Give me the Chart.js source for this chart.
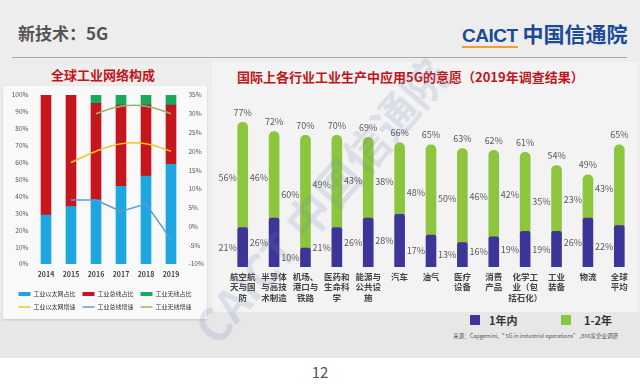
<!DOCTYPE html>
<html><head><meta charset="utf-8">
<script src="https://cdn.jsdelivr.net/npm/chart.js@4"></script>
<style>
body{margin:0;width:640px;height:386px;overflow:hidden;background:#fff;font-family:"Noto Sans CJK SC",sans-serif;position:relative}
.abs{position:absolute}
</style></head><body>
<div class="abs" style="left:0;top:0;width:640px;height:358px;background:#ededed"></div>
<div class="abs" style="left:212px;top:62px;width:426px;height:250px;background:#f3f3f3"></div>
<div class="abs" style="left:0;top:312px;width:640px;height:46px;background:#e7e7e7"></div>
<div class="abs" style="left:18px;top:21px;font-size:17px;font-weight:bold;color:#555;line-height:24px">新技术：5G</div>
<div class="abs" style="left:462px;top:20px;font-size:19px;font-weight:bold;color:#1c4b96;line-height:26px;font-family:'Liberation Sans','Noto Sans CJK SC',sans-serif"><span style="border-bottom:2px solid #f0a030;letter-spacing:-0.5px">CAICT</span><span style="font-family:'Noto Sans CJK SC';margin-left:5px;font-size:21px">中国信通院</span></div>
<div class="abs" style="left:12px;top:57px;width:615px;height:1px;background:#aaa"></div>
<div class="abs" style="left:3px;top:86px;width:204px;height:233px;background:#f9f9f9;box-shadow:0 1px 2px rgba(0,0,0,0.15)"></div>
<div class="abs" style="left:0;top:66px;width:206px;text-align:center;font-size:13px;font-weight:bold;color:#c0161b;line-height:18px">全球工业网络构成</div>
<div class="abs" style="left:237px;top:68px;font-size:13px;font-weight:bold;color:#c0161b;line-height:18px;white-space:nowrap">国际上各行业工业生产中应用5G的意愿（2019年调查结果）</div>
<canvas id="cl" class="abs" width="204" height="234" style="left:3px;top:86px"></canvas>
<canvas id="cr" class="abs" width="425" height="250" style="left:215px;top:62px"></canvas>
<div class="abs" style="left:470px;top:315px;width:10px;height:10px;background:#3d3597"></div>
<div class="abs" style="left:489px;top:312px;font-size:11px;font-weight:bold;color:#333;line-height:16px">1年内</div>
<div class="abs" style="left:561px;top:315px;width:10px;height:10px;background:#8cc63f"></div>
<div class="abs" style="left:584px;top:312px;font-size:11px;font-weight:bold;color:#333;line-height:16px">1-2年</div>
<div class="abs" style="right:22px;top:332px;font-size:5.5px;color:#555;line-height:8px;white-space:nowrap">来源：Capgemini,“ 5G in industrial operations” ,806家企业调研</div>
<div class="abs" style="left:0;top:362px;width:640px;text-align:center;font-size:15px;color:#555;line-height:20px">12</div>
<div class="abs" style="left:140px;top:175px;width:360px;text-align:center;font-size:44px;font-weight:bold;color:rgba(110,130,175,0.18);transform:rotate(-49deg);white-space:nowrap;line-height:50px;pointer-events:none">CAICT 中国信通院</div>
<script>
// ---- left chart data ----
const years = ['2014','2015','2016','2017','2018','2019'];
const ethShare = [29, 34, 38, 46, 52, 59];
const busShare = [71, 66, 57, 48, 42, 35];
const wirelessShare = [0, 0, 5, 6, 6, 6];
const ethGrowth = [null, 17, 20, 22, 22, 20];
const busGrowth = [null, 7, 7, 4, 6, -3.5];
const wirelessGrowth = [null, null, 30, 32, 32, 30];
const leftTicks = [0,10,20,30,40,50,60,70,80,90,100];
const rightTicks = [-10,-5,0,5,10,15,20,25,30,35];

// ---- right chart data ----
const industries = [
  ['航空航','天与国','防'], ['半导体','与高技','术制造'], ['机场、','港口与','铁路'], ['医药和','生命科','学'],
  ['能源与','公共设','施'], ['汽车'], ['油气'], ['医疗','设备'], ['消费','产品'], ['化学工','业（包','括石化）'],
  ['工业','装备'], ['物流'], ['全球','平均']
];
const within1 = [21, 26, 10, 21, 26, 28, 17, 13, 16, 19, 19, 26, 22];
const within1to2 = [56, 46, 60, 49, 43, 38, 48, 50, 46, 42, 35, 23, 43];
const totals = [77, 72, 70, 70, 69, 66, 65, 63, 62, 61, 54, 49, 65];

Chart.defaults.font.family = '"Noto Sans CJK SC", sans-serif';

new Chart(document.getElementById('cl'), {
  type: 'bar',
  data: {
    labels: years,
    datasets: [
      {label:'工业以太网占比', data: ethShare, backgroundColor:'#1ea6e0', yAxisID:'y', barThickness:10, pointStyle:'rect', borderWidth:0},
      {label:'工业总线占比', data: busShare, backgroundColor:'#c5161d', yAxisID:'y', barThickness:10, pointStyle:'rect', borderWidth:0},
      {label:'工业无线占比', data: wirelessShare, backgroundColor:'#1aa85a', yAxisID:'y', barThickness:10, pointStyle:'rect', borderWidth:0},
      {type:'line', label:'工业以太网增速', data: ethGrowth, yAxisID:'y1', borderColor:'#f5c02a', backgroundColor:'#f5c02a', borderWidth:1.5, pointRadius:0, tension:0.4, pointStyle:'line', order:-1},
      {type:'line', label:'工业总线增速', data: busGrowth, yAxisID:'y1', borderColor:'#5b9bd5', backgroundColor:'#5b9bd5', borderWidth:1.5, pointRadius:0, tension:0, pointStyle:'line', order:-1},
      {type:'line', label:'工业无线增速', data: wirelessGrowth, yAxisID:'y1', borderColor:'#93b86a', backgroundColor:'#93b86a', borderWidth:1.5, pointRadius:0, tension:0.4, pointStyle:'line', order:-1}
    ]
  },
  options: {
    responsive:false, animation:false,
    layout:{padding:{top:8, left:0, right:0, bottom:0}},
    plugins:{
      tooltip:{enabled:false},
      legend:{position:'bottom', labels:{usePointStyle:true, pointStyleWidth:12, boxHeight:4, font:{size:6}, color:'#333', padding:7,
        sort:(a,b)=>a.datasetIndex-b.datasetIndex}}
    },
    scales:{
      x:{stacked:true, grid:{display:false, drawTicks:false}, border:{display:false},
         ticks:{font:{size:7, weight:'bold'}, color:'#444', padding:6}, afterFit(s){s.height=20;}},
      y:{stacked:true, position:'left', min:0, max:100, grid:{display:false, drawTicks:false}, border:{display:false},
         afterBuildTicks(s){s.ticks = leftTicks.map(v=>({value:v}));},
         ticks:{font:{size:6.5}, color:'#555', padding:5, callback:v=>v+'%'}, afterFit(s){s.width=30.5;}},
      y1:{stacked:false, position:'right', min:-10, max:35, grid:{display:false, drawTicks:false}, border:{display:false},
         afterBuildTicks(s){s.ticks = rightTicks.map(v=>({value:v}));},
         ticks:{font:{size:6.5}, color:'#555', padding:5, callback:v=>v+'%'}, afterFit(s){s.width=23.5;}}
    }
  }
});

const valueLabels = {
  id:'valueLabels',
  afterDatasetsDraw(chart){
    const ctx = chart.ctx;
    const m0 = chart.getDatasetMeta(0), m1 = chart.getDatasetMeta(1);
    ctx.save();
    ctx.font = '9px "Noto Sans CJK SC", sans-serif';
    ctx.fillStyle = '#595959';
    m0.data.forEach((bar, i) => {
      const top = m1.data[i];
      const left = bar.x - bar.width/2;
      ctx.textAlign = 'right'; ctx.textBaseline = 'middle';
      ctx.fillText(within1[i] + '%', left - 1, (bar.y + bar.base)/2);
      ctx.fillText(within1to2[i] + '%', left - 1, (top.y + top.base)/2 + 3);
      ctx.textAlign = 'center';
      ctx.fillText(totals[i] + '%', bar.x, top.y - 10);
    });
    ctx.restore();
  }
};

new Chart(document.getElementById('cr'), {
  type:'bar',
  data:{
    labels: industries,
    datasets:[
      {label:'1年内', data: within1, backgroundColor:'#3d3597', barThickness:10, borderSkipped:false, borderRadius:{topLeft:2,topRight:2}},
      {label:'1-2年', data: within1to2, backgroundColor:'#8cc63f', barThickness:10, borderSkipped:false, borderRadius:{topLeft:5,topRight:5}}
    ]
  },
  options:{
    responsive:false, animation:false,
    layout:{padding:{top:17, left:12, right:5, bottom:0}},
    plugins:{legend:{display:false}, tooltip:{enabled:false}},
    scales:{
      x:{stacked:true, grid:{display:false, drawTicks:false}, border:{display:false},
         ticks:{font:{size:8.5, weight:'bold', lineHeight:1.24}, color:'#444', padding:4, autoSkip:false, maxRotation:0}, afterFit(s){s.height=45;}},
      y:{stacked:true, display:false, min:0, max:100}
    }
  },
  plugins:[valueLabels]
});
</script>
</body></html>
